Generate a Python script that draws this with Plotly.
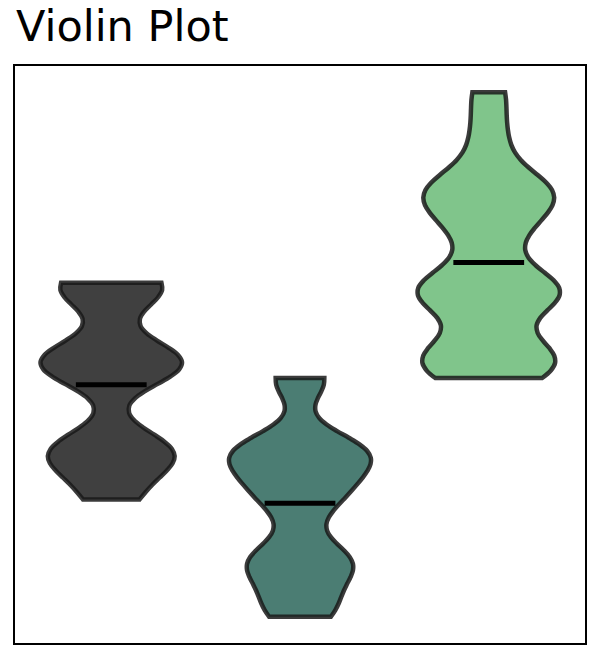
import numpy as np
import plotly.graph_objects as go

# sample values of the three groups
group_a = [7.34, 7.30, 7.26, 7.22, 7.16,
           5.88, 5.82, 5.78, 5.74, 5.70, 5.66, 5.60,
           4.08, 4.02, 3.96, 3.90, 3.84, 3.78,
           3.10, 3.02]
group_b = [5.44, 5.38,
           4.12, 4.04, 3.96, 3.88, 3.80,
           3.44, 3.28, 3.12,
           2.76,
           1.92, 1.82, 1.72, 1.62,
           1.16, 0.84, 0.68]
group_c = [11.14, 10.24,
           9.32, 9.20, 9.10, 9.00,
           8.56, 8.24,
           7.32, 7.24, 7.16, 7.08, 7.00,
           6.00, 5.88, 5.78, 5.68, 5.44]

groups = [group_a, group_b, group_c]
positions = [0, 1, 2]
bandwidths = [0.44, 0.40, 0.46]
colors = ["#404040", "#4b7d73", "#80c58b"]

fig = go.Figure()

for vals, pos, bw, col in zip(groups, positions, bandwidths, colors):
    fig.add_trace(
        go.Violin(
            y=vals,
            x0=pos,
            width=0.75,
            bandwidth=bw,
            spanmode="hard",
            points=False,
            fillcolor=col,
            line=dict(color="rgba(25,25,25,0.85)", width=4.5),
            opacity=1,
            hoverinfo="skip",
            showlegend=False,
        )
    )

# mean lines (half the violin width, like matplotlib)
for vals, pos in zip(groups, positions):
    m = np.mean(vals)
    fig.add_trace(
        go.Scatter(
            x=[pos - 0.1875, pos + 0.1875],
            y=[m, m],
            mode="lines",
            line=dict(color="black", width=5),
            hoverinfo="skip",
            showlegend=False,
        )
    )

all_vals = np.concatenate(groups)
lo, hi = all_vals.min(), all_vals.max()
pad = 0.05 * (hi - lo)

fig.update_layout(
    width=600,
    height=660,
    title=dict(
        text="Violin Plot",
        x=8 / 600,
        xanchor="left",
        y=0.996,
        yanchor="top",
        font=dict(family="DejaVu Sans", size=43, color="black"),
    ),
    violinmode="overlay",
    plot_bgcolor="white",
    paper_bgcolor="white",
    margin=dict(l=7, r=23, t=58, b=25),
    xaxis=dict(
        range=[-0.51, 2.51],
        showticklabels=False,
        ticks="",
        showgrid=False,
        zeroline=False,
        showline=True,
        mirror=True,
        linecolor="black",
        linewidth=2,
    ),
    yaxis=dict(
        range=[lo - pad, hi + pad],
        showticklabels=False,
        ticks="",
        showgrid=False,
        zeroline=False,
        showline=True,
        mirror=True,
        linecolor="black",
        linewidth=2,
    ),
)

fig.write_html("out.html")
